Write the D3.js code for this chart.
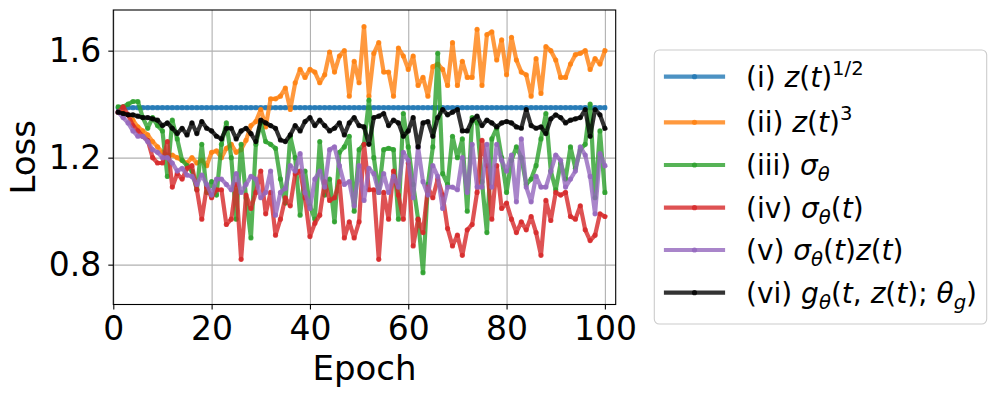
<!DOCTYPE html>
<html>
<head>
<meta charset="utf-8">
<script src="https://cdn.jsdelivr.net/npm/d3@7"></script>
<style>
  body { margin: 0; background: #fff; }
  text { font-family: "DejaVu Sans", sans-serif; fill: #000; }
  .legend text { white-space: pre; }
</style>
</head>
<body>
<script>
// epochs 1..100
const epochs = d3.range(1, 101);

const lossSqrt = [
  1.387,1.387,1.387,1.387,1.387,1.387,1.387,1.387,1.387,1.387,
  1.387,1.387,1.387,1.387,1.387,1.387,1.387,1.387,1.387,1.387,
  1.387,1.387,1.387,1.387,1.387,1.387,1.387,1.387,1.387,1.387,
  1.387,1.387,1.387,1.387,1.387,1.387,1.387,1.387,1.387,1.387,
  1.387,1.387,1.387,1.387,1.387,1.387,1.387,1.387,1.387,1.387,
  1.387,1.387,1.387,1.387,1.387,1.387,1.387,1.387,1.387,1.387,
  1.387,1.387,1.387,1.387,1.387,1.387,1.387,1.387,1.387,1.387,
  1.387,1.387,1.387,1.387,1.387,1.387,1.387,1.387,1.387,1.387,
  1.387,1.387,1.387,1.387,1.387,1.387,1.387,1.387,1.387,1.387,
  1.387,1.387,1.387,1.387,1.387,1.387,1.387,1.387,1.387,1.387
];

const lossCube = [
  1.37,1.37,1.36,1.34,1.315,1.30,1.285,1.26,1.24,1.22,
  1.21,1.21,1.20,1.19,1.18,1.20,1.18,1.19,1.17,1.22,
  1.225,1.20,1.235,1.25,1.22,1.23,1.265,1.32,1.335,1.38,
  1.315,1.42,1.42,1.43,1.46,1.38,1.48,1.53,1.50,1.53,
  1.52,1.48,1.51,1.595,1.52,1.58,1.60,1.43,1.56,1.48,
  1.69,1.43,1.59,1.63,1.52,1.52,1.43,1.61,1.58,1.53,
  1.58,1.47,1.50,1.43,1.54,1.55,1.53,1.47,1.63,1.47,
  1.56,1.50,1.50,1.68,1.47,1.66,1.67,1.565,1.64,1.51,
  1.65,1.565,1.52,1.51,1.43,1.57,1.44,1.615,1.60,1.565,
  1.50,1.50,1.55,1.585,1.59,1.60,1.53,1.57,1.55,1.60
];

const lossSigma = [
  1.39,1.39,1.40,1.41,1.41,1.35,1.31,1.35,1.32,1.30,
  1.13,1.34,1.27,1.19,1.17,1.15,1.08,1.25,1.07,1.11,
  1.06,1.25,1.33,1.20,0.97,1.25,1.05,0.90,1.25,1.33,
  1.26,1.25,1.235,1.12,1.03,1.28,1.20,0.985,1.15,1.02,
  0.97,1.26,1.06,1.12,0.96,1.22,1.24,1.28,1.00,1.23,
  1.25,1.415,1.20,1.07,1.23,1.235,1.23,0.97,1.365,1.24,
  1.10,0.97,0.77,1.10,1.24,1.59,1.14,1.10,1.28,1.20,
  1.27,1.00,1.35,1.33,1.11,0.92,1.27,1.31,1.20,1.07,
  1.19,1.24,1.20,1.10,1.12,1.17,1.27,1.365,1.15,1.08,
  1.18,1.12,1.24,1.16,1.23,1.25,1.40,1.05,1.30,1.07
];

const lossSigmaT = [
  1.37,1.39,1.36,1.32,1.30,1.28,1.265,1.20,1.18,1.18,
  1.26,1.09,1.14,1.12,1.16,1.17,1.08,0.97,1.09,1.05,
  1.08,1.08,0.95,0.97,1.10,0.82,1.06,1.01,1.07,1.15,
  0.99,1.07,0.91,0.97,1.05,1.02,1.14,1.15,1.05,0.905,
  0.955,0.985,1.11,1.04,1.05,1.11,0.90,0.96,0.90,0.96,
  1.25,1.08,1.08,0.82,1.07,0.97,1.15,1.06,0.97,1.18,
  0.87,0.97,0.92,1.09,1.05,1.12,1.06,0.935,0.87,0.91,
  0.835,0.93,0.95,1.07,1.265,1.17,0.97,1.17,1.01,1.03,
  0.97,0.92,0.96,0.93,0.98,0.92,0.835,1.04,0.965,1.07,
  1.06,1.07,0.98,0.97,1.02,0.93,0.89,0.91,0.99,0.98
];

const lossSigmaTZ = [
  1.37,1.35,1.33,1.30,1.28,1.28,1.26,1.23,1.22,1.20,
  1.20,1.18,1.15,1.16,1.135,1.13,1.10,1.135,1.10,1.06,
  1.12,1.12,1.10,1.08,1.14,1.07,1.10,1.13,1.12,1.05,
  1.07,1.15,0.985,1.07,1.085,1.17,1.15,1.215,1.07,1.01,
  1.12,1.15,1.09,1.23,1.24,1.17,1.10,1.11,1.02,1.17,
  1.04,1.16,1.14,1.07,1.14,1.07,1.13,1.09,1.22,1.19,
  1.05,1.24,1.11,1.06,1.17,1.13,1.01,1.09,1.09,1.08,
  1.20,1.07,1.25,1.09,1.09,1.25,1.09,1.25,1.19,1.15,
  1.21,1.035,1.27,1.09,1.035,1.13,1.09,1.09,1.15,1.21,
  1.19,1.09,1.12,1.15,1.24,1.21,1.13,0.99,1.215,1.17
];

const lossG = [
  1.37,1.365,1.36,1.36,1.355,1.35,1.35,1.345,1.34,1.32,
  1.33,1.31,1.29,1.31,1.285,1.33,1.29,1.335,1.31,1.30,
  1.28,1.27,1.31,1.31,1.27,1.30,1.31,1.29,1.26,1.34,
  1.33,1.32,1.31,1.266,1.26,1.285,1.32,1.30,1.335,1.35,
  1.32,1.34,1.32,1.30,1.31,1.33,1.285,1.33,1.35,1.32,
  1.315,1.25,1.35,1.355,1.365,1.32,1.34,1.33,1.28,1.30,
  1.35,1.24,1.33,1.335,1.28,1.35,1.38,1.36,1.37,1.38,
  1.30,1.30,1.34,1.355,1.32,1.34,1.33,1.315,1.33,1.335,
  1.33,1.315,1.31,1.38,1.32,1.31,1.315,1.29,1.345,1.36,
  1.35,1.33,1.34,1.345,1.35,1.38,1.28,1.38,1.36,1.31
];

const colors = ["#1f77b4", "#ff7f0e", "#2ca02c", "#d62728", "#9467bd", "#000000"];
const xTicks = [0, 20, 40, 60, 80, 100];
const yTicks = [0.8, 1.2, 1.6];

// legend labels as [text, style] pieces (n = upright, i = italic, sup / sub)
const legendLabels = [
  [["(i) ", "n"], ["z", "i"], ["(", "n"], ["t", "i"], [")", "n"], ["1/2", "sup"]],
  [["(ii) ", "n"], ["z", "i"], ["(", "n"], ["t", "i"], [")", "n"], ["3", "sup"]],
  [["(iii) ", "n"], ["σ", "i"], ["θ", "sub"]],
  [["(iv) ", "n"], ["σ", "i"], ["θ", "sub"], ["(", "n"], ["t", "i"], [")", "n"]],
  [["(v) ", "n"], ["σ", "i"], ["θ", "sub"], ["(", "n"], ["t", "i"], [")", "n"],
   ["z", "i"], ["(", "n"], ["t", "i"], [")", "n"]],
  [["(vi) ", "n"], ["g", "i"], ["θ", "sub"], ["(", "n"], ["t", "i"], [", ", "n"],
   ["z", "i"], ["(", "n"], ["t", "i"], ["); ", "n"], ["θ", "i"], ["g", "sub"], [")", "n"]]
];

const series = [lossSqrt, lossCube, lossSigma, lossSigmaT, lossSigmaTZ, lossG];

const width = 997, height = 397;
const plot = {left: 113.3, right: 615.7, top: 10, bottom: 304.5};

const x = d3.scaleLinear().domain([0, 102.2]).range([plot.left, plot.right]);
const y = d3.scaleLinear().domain([0.651, 1.752]).range([plot.bottom, plot.top]);

const svg = d3.select("body")
    .append("svg")
    .attr("width", width)
    .attr("height", height);

svg.append("defs").append("clipPath")
    .attr("id", "clip")
    .append("rect")
    .attr("x", plot.left).attr("y", plot.top)
    .attr("width", plot.right - plot.left)
    .attr("height", plot.bottom - plot.top);

// grid
svg.append("g")
    .attr("transform", `translate(0,${plot.bottom})`)
    .call(d3.axisBottom(x).tickValues(xTicks).tickSize(-(plot.bottom - plot.top)).tickFormat(""))
    .call(g => g.select(".domain").remove())
    .call(g => g.selectAll("line").attr("stroke", "#b0b0b0").attr("stroke-width", 1.1));

svg.append("g")
    .attr("transform", `translate(${plot.left},0)`)
    .call(d3.axisLeft(y).tickValues(yTicks).tickSize(-(plot.right - plot.left)).tickFormat(""))
    .call(g => g.select(".domain").remove())
    .call(g => g.selectAll("line").attr("stroke", "#b0b0b0").attr("stroke-width", 1.1));

// lines
const line = d3.line()
    .x((d, i) => x(epochs[i]))
    .y(d => y(d));

const lines = svg.append("g").attr("clip-path", "url(#clip)");

series.forEach((vals, k) => {
    lines.append("path")
        .datum(vals)
        .attr("d", line)
        .attr("fill", "none")
        .attr("stroke", colors[k])
        .attr("stroke-width", 4.2)
        .attr("stroke-linejoin", "round")
        .attr("stroke-linecap", "square")
        .attr("stroke-opacity", 0.8);

    lines.append("g")
        .selectAll("circle")
        .data(vals)
        .enter().append("circle")
        .attr("cx", (d, i) => x(epochs[i]))
        .attr("cy", d => y(d))
        .attr("r", 2.6)
        .attr("fill", colors[k])
        .attr("fill-opacity", 0.8);
});

// axes
const xAxis = svg.append("g")
    .attr("transform", `translate(0,${plot.bottom})`)
    .call(d3.axisBottom(x).tickValues(xTicks).tickSize(5).tickSizeOuter(0).tickPadding(7));

const yAxis = svg.append("g")
    .attr("transform", `translate(${plot.left},0)`)
    .call(d3.axisLeft(y).tickValues(yTicks).tickFormat(d3.format(".1f")).tickSize(5).tickSizeOuter(0).tickPadding(7));

[xAxis, yAxis].forEach(a => {
    a.select(".domain").remove();
    a.selectAll("line").attr("stroke", "#000").attr("stroke-width", 1.1);
    a.selectAll("text").attr("font-size", 33).attr("font-family", "DejaVu Sans").attr("fill", "#000");
});

// spines
svg.append("rect")
    .attr("x", plot.left).attr("y", plot.top)
    .attr("width", plot.right - plot.left)
    .attr("height", plot.bottom - plot.top)
    .attr("fill", "none")
    .attr("stroke", "#000")
    .attr("stroke-width", 1.1);

svg.append("text")
    .attr("x", (plot.left + plot.right) / 2)
    .attr("y", 380)
    .attr("text-anchor", "middle")
    .attr("font-size", 34)
    .text("Epoch");

svg.append("text")
    .attr("transform", `translate(35,${(plot.top + plot.bottom) / 2}) rotate(-90)`)
    .attr("text-anchor", "middle")
    .attr("font-size", 34)
    .text("Loss");

// legend
const legend = svg.append("g").attr("class", "legend");
const rowY = [76.7, 122.3, 165, 207.7, 250, 292.7];
const fs = 28;

legend.append("rect")
    .attr("x", 654.3).attr("y", 50)
    .attr("width", 332.4).attr("height", 274)
    .attr("rx", 5)
    .attr("fill", "#fff")
    .attr("fill-opacity", 0.8)
    .attr("stroke", "#cccccc")
    .attr("stroke-width", 1.1);

legendLabels.forEach((parts, k) => {
    const row = legend.append("g").attr("transform", `translate(0,${rowY[k]})`);
    row.append("line")
        .attr("x1", 666).attr("x2", 723)
        .attr("stroke", colors[k])
        .attr("stroke-width", 4.2)
        .attr("stroke-linecap", "square")
        .attr("stroke-opacity", 0.8);
    row.append("circle")
        .attr("cx", 694.5)
        .attr("r", 2.6)
        .attr("fill", colors[k])
        .attr("fill-opacity", 0.8);

    const t = row.append("text")
        .attr("x", 746)
        .attr("y", fs * 0.35)
        .attr("font-size", fs);
    let cur = 0;
    parts.forEach(([s, style]) => {
        let shift = 0, size = fs, italic = false;
        if (style === "i") italic = true;
        if (style === "sup") { shift = -0.42 * fs; size = fs * 0.7; }
        if (style === "sub") { shift = 0.22 * fs; size = fs * 0.7; italic = true; }
        t.append("tspan")
            .attr("dy", shift - cur)
            .attr("font-size", size)
            .attr("font-style", italic ? "italic" : "normal")
            .text(s);
        cur = shift;
    });
});
</script>
</body>
</html>
